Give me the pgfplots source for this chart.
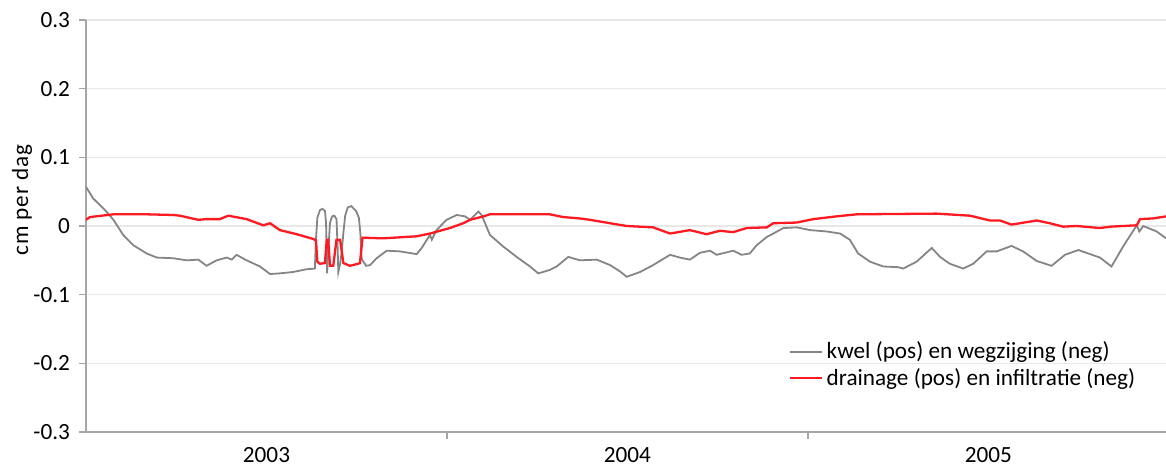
\documentclass[border=0pt]{standalone}
\usepackage{pgfplots}
\pgfplotsset{compat=1.18}
\usepackage{fontspec}
\setmainfont{Carlito}

\definecolor{kwelgray}{HTML}{858585}
\definecolor{drainred}{HTML}{FF1A22}
\definecolor{axisgray}{HTML}{A6A6A6}
\definecolor{gridgray}{HTML}{E8E8E8}

\newcommand\chartfont{\fontsize{11.6pt}{13pt}\selectfont}

\begin{document}
\begin{tikzpicture}
\begin{axis}[
  scale only axis,
  width=540pt, height=206pt,
  xmin=2003, xmax=2005.992,
  ymin=-0.3, ymax=0.3,
  axis x line*=bottom, axis y line*=left,
  axis line style={axisgray, line width=0.7pt},
  every tick/.style={axisgray, line width=0.6pt},
  ytick={-0.3,-0.2,-0.1,0,0.1,0.2,0.3},
  yticklabels={-0.3,-0.2,-0.1,0,0.1,0.2,0.3},
  tick align=outside,
  major tick length=3.5pt,
  ymajorgrids,
  major grid style={gridgray, line width=0.6pt},
  xtick={2004,2005},
  xticklabels={},
  extra x ticks={2003.5,2004.5,2005.5},
  extra x tick labels={2003,2004,2005},
  extra x tick style={major tick length=0pt, grid=none},
  tick label style={font=\chartfont, text=black},
  /pgf/number format/assume math mode=true,
  xticklabel style={yshift=-4pt},
  yticklabel style={xshift=-1pt},
  ylabel={\chartfont\addfontfeature{LetterSpace=4}cm per dag},
  ylabel style={at={(rel axis cs:-0.0593,0.563)}, anchor=center},
  legend style={at={(rel axis cs:0.650,0.222)}, anchor=north west,
    draw=none, fill=none, font=\chartfont,
    row sep=2.2pt, inner sep=0pt,
    nodes={inner xsep=2pt, inner ysep=0.5pt}},
  legend cell align=left,
  legend image code/.code={\draw[#1] (0pt,0pt) -- (16pt,0pt);},
  clip=true,
]
% kwel (positive) and wegzijging (negative)
\addplot[kwelgray, line width=0.9pt] coordinates {
(2003.000,0.057) (2003.020,0.040) (2003.053,0.023) (2003.076,0.009)
(2003.103,-0.013) (2003.131,-0.028) (2003.168,-0.040) (2003.196,-0.046)
(2003.242,-0.047) (2003.279,-0.050) (2003.311,-0.049) (2003.334,-0.058)
(2003.362,-0.050) (2003.390,-0.046) (2003.404,-0.049) (2003.417,-0.042)
(2003.445,-0.050) (2003.482,-0.059) (2003.510,-0.070) (2003.537,-0.069)
(2003.574,-0.067) (2003.611,-0.063) (2003.634,-0.062)
(2003.637,-0.020) (2003.641,0.012) (2003.648,0.023) (2003.655,0.025)
(2003.662,0.022) (2003.665,0.005) (2003.667,-0.040) (2003.668,-0.069)
(2003.672,-0.030) (2003.676,0.005) (2003.682,0.014) (2003.688,0.015)
(2003.694,0.010) (2003.697,-0.030) (2003.699,-0.067)
(2003.704,-0.055) (2003.708,-0.040) (2003.713,-0.010) (2003.718,0.015)
(2003.725,0.027) (2003.735,0.029) (2003.748,0.022) (2003.756,0.012)
(2003.760,-0.010) (2003.763,-0.045) (2003.766,-0.050)
(2003.776,-0.058) (2003.787,-0.057) (2003.805,-0.047) (2003.833,-0.036)
(2003.870,-0.037) (2003.916,-0.041) (2003.930,-0.032) (2003.953,-0.013)
(2003.958,-0.020) (2003.971,-0.006) (2003.999,0.009) (2004.027,0.016)
(2004.050,0.014) (2004.064,0.009) (2004.087,0.021) (2004.096,0.016)
(2004.119,-0.013) (2004.156,-0.030) (2004.193,-0.045) (2004.230,-0.059)
(2004.253,-0.069) (2004.285,-0.064) (2004.304,-0.059) (2004.336,-0.045)
(2004.368,-0.050) (2004.415,-0.049) (2004.452,-0.057) (2004.479,-0.066)
(2004.498,-0.074) (2004.535,-0.067) (2004.571,-0.057) (2004.618,-0.042)
(2004.645,-0.046) (2004.673,-0.049) (2004.701,-0.039) (2004.729,-0.036)
(2004.747,-0.042) (2004.793,-0.036) (2004.816,-0.042) (2004.839,-0.040)
(2004.858,-0.028) (2004.886,-0.016) (2004.904,-0.011) (2004.932,-0.003)
(2004.969,-0.002) (2005.006,-0.006) (2005.052,-0.008) (2005.089,-0.011)
(2005.116,-0.020) (2005.139,-0.040) (2005.172,-0.052) (2005.209,-0.059)
(2005.250,-0.060) (2005.264,-0.062) (2005.301,-0.052) (2005.343,-0.032)
(2005.366,-0.045) (2005.393,-0.055) (2005.430,-0.062) (2005.458,-0.055)
(2005.495,-0.037) (2005.523,-0.037) (2005.564,-0.029) (2005.596,-0.037)
(2005.634,-0.051) (2005.675,-0.058) (2005.712,-0.042) (2005.749,-0.035)
(2005.809,-0.046) (2005.841,-0.059) (2005.873,-0.030) (2005.911,0.001)
(2005.918,-0.008) (2005.929,0.000) (2005.966,-0.008) (2005.992,-0.018)
};
\addlegendentry{kwel (pos) en wegzijging (neg)}
% drainage (positive) and infiltratie (negative)
\addplot[drainred, line width=1.15pt] coordinates {
(2003.000,0.009) (2003.011,0.013) (2003.076,0.017) (2003.168,0.017)
(2003.242,0.016) (2003.260,0.015) (2003.311,0.009) (2003.334,0.010)
(2003.371,0.010) (2003.394,0.015) (2003.445,0.010) (2003.491,0.001)
(2003.510,0.004) (2003.537,-0.006) (2003.584,-0.012) (2003.630,-0.019)
(2003.637,-0.021) (2003.641,-0.052) (2003.648,-0.055) (2003.662,-0.054)
(2003.667,-0.020) (2003.671,-0.020) (2003.676,-0.058) (2003.685,-0.058)
(2003.694,-0.020) (2003.704,-0.020) (2003.713,-0.054) (2003.731,-0.058)
(2003.754,-0.055) (2003.759,-0.054) (2003.766,-0.017) (2003.823,-0.018)
(2003.916,-0.015) (2003.953,-0.011) (2004.008,-0.003) (2004.045,0.004)
(2004.064,0.009) (2004.101,0.014) (2004.119,0.017) (2004.285,0.017)
(2004.322,0.013) (2004.368,0.011) (2004.396,0.009) (2004.452,0.004)
(2004.498,0.000) (2004.571,-0.002) (2004.618,-0.011) (2004.673,-0.006)
(2004.719,-0.012) (2004.756,-0.007) (2004.793,-0.009) (2004.830,-0.003)
(2004.886,-0.002) (2004.904,0.004) (2004.969,0.005) (2005.015,0.010)
(2005.079,0.014) (2005.135,0.017) (2005.356,0.018) (2005.449,0.015)
(2005.504,0.008) (2005.532,0.008) (2005.564,0.002) (2005.634,0.008)
(2005.670,0.004) (2005.707,-0.001) (2005.744,0.000) (2005.809,-0.003)
(2005.837,-0.001) (2005.911,0.001) (2005.920,0.010) (2005.956,0.011)
(2005.992,0.014)
};
\addlegendentry{drainage (pos) en infiltratie (neg)}
\end{axis}
\pgfresetboundingbox
\useasboundingbox ([xshift=-43pt,yshift=-17pt]current axis.south west)
  rectangle ([yshift=10pt]current axis.north east);
\end{tikzpicture}
\end{document}
